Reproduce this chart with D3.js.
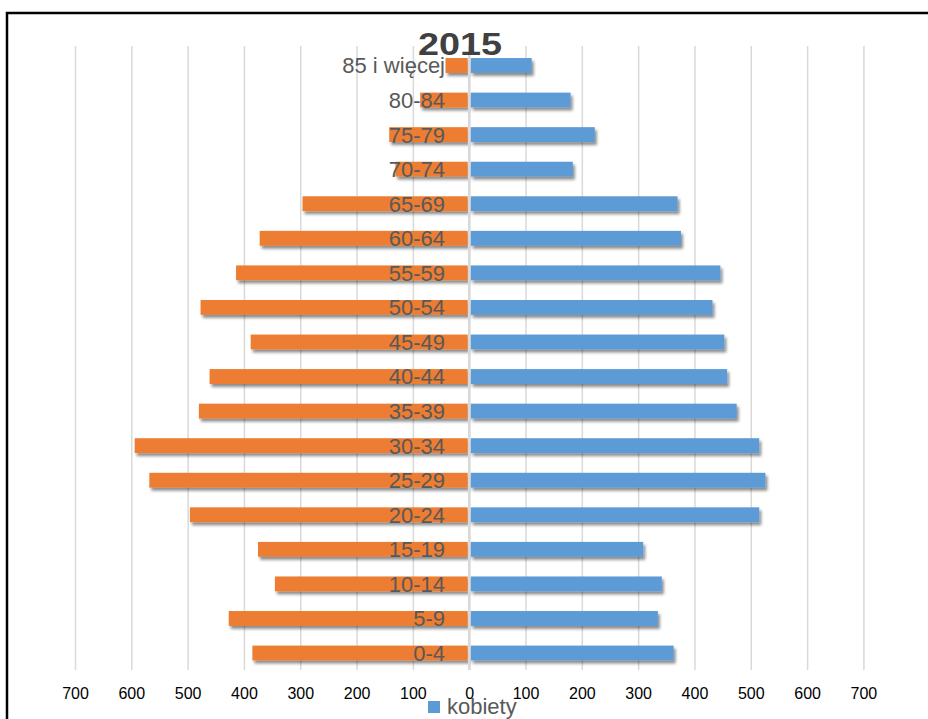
<!DOCTYPE html>
<html>
<head>
<meta charset="utf-8">
<script src="https://cdn.jsdelivr.net/npm/d3@7"></script>
<style>
  html, body { margin: 0; padding: 0; background: #fff; }
  svg { display: block; }
</style>
</head>
<body>
<svg id="chart" width="928" height="719"></svg>
<script>
// ---- data ----
const title = "2015";
const categories = ["0-4","5-9","10-14","15-19","20-24","25-29","30-34","35-39","40-44","45-49","50-54","55-59","60-64","65-69","70-74","75-79","80-84","85 i więcej"];
const men   = [385, 427, 345, 375, 496, 568, 594, 480, 461, 388, 477, 414, 372, 296, 131, 142, 87, 42];
const women = [363, 335, 342, 309, 515, 526, 515, 475, 458, 453, 432, 446, 376, 370, 184, 223, 180, 111];
const tickValues = [-700,-600,-500,-400,-300,-200,-100,0,100,200,300,400,500,600,700];
const legendLabel = "kobiety";

const svg = d3.select("#chart");
const W = 928, H = 719;

// drop shadow filter
const defs = svg.append("defs");
const f = defs.append("filter").attr("id","shadow").attr("x","-5%").attr("y","-40%").attr("width","110%").attr("height","200%");
f.append("feDropShadow").attr("dx",2).attr("dy",3).attr("stdDeviation",1.6)
  .attr("flood-color","#000").attr("flood-opacity",0.45);

// frame
svg.append("rect").attr("x",7).attr("y",13).attr("width",W+20).attr("height",H+20)
  .attr("fill","#fff").attr("stroke","#000").attr("stroke-width",2.5);

const x = d3.scaleLinear().domain([-700,700]).range([75,863.4]);
const y = d3.scaleBand().domain(categories.slice().reverse()).range([48.2,670.3])
  .paddingInner(0.57).paddingOuter(0.285);

// gridlines
const grid = svg.append("g").attr("transform",`translate(0,${670})`)
  .call(d3.axisBottom(x).tickValues(tickValues).tickSize(-(670-46)).tickFormat(""));
grid.select(".domain").remove();
grid.selectAll(".tick line").attr("stroke","#d9d9d9").attr("stroke-width",1.5);

const rows = categories.map((c,i)=>({c, m: men[i], w: women[i]}));
const x0 = x(0);

// bars
const bars = svg.append("g").attr("filter","url(#shadow)");
bars.selectAll("rect.m").data(rows).join("rect").attr("class","m")
  .attr("x", d => x(-d.m)).attr("width", d => x0 - 1.5 - x(-d.m))
  .attr("y", d => y(d.c)).attr("height", y.bandwidth())
  .attr("fill","#ED7D31");
bars.selectAll("rect.w").data(rows).join("rect").attr("class","w")
  .attr("x", x0 + 1.5).attr("width", d => x(d.w) - x0 - 1.5)
  .attr("y", d => y(d.c)).attr("height", y.bandwidth())
  .attr("fill","#5B9BD5");

// zero line
svg.append("line").attr("x1",x0).attr("x2",x0).attr("y1",46).attr("y2",670)
  .attr("stroke","#d9d9d9").attr("stroke-width",2.5);

// category labels
svg.append("g").selectAll("text").data(rows).join("text")
  .attr("x", 445).attr("y", d => y(d.c) + y.bandwidth()/2)
  .attr("dy","0.36em").attr("text-anchor","end")
  .attr("font-family","'Liberation Sans', Arial, sans-serif").attr("font-size",22)
  .attr("fill","#595959").text(d => d.c);

// tick labels
const ax = svg.append("g").attr("transform","translate(0,685)")
  .call(d3.axisBottom(x).tickValues(tickValues).tickSize(0).tickFormat(d => Math.abs(d)));
ax.select(".domain").remove();
ax.selectAll("text").attr("font-family","'Liberation Sans', Arial, sans-serif")
  .attr("font-size",16).attr("fill","#000").attr("dy","0.71em");

// title
svg.append("text").attr("x",460).attr("y",55).attr("text-anchor","middle")
  .attr("font-family","'Liberation Sans', Arial, sans-serif").attr("font-weight","bold")
  .attr("font-size",32).attr("fill","#404040")
  .attr("textLength",84).attr("lengthAdjust","spacingAndGlyphs").text(title);

// legend
svg.append("rect").attr("x",428).attr("y",701).attr("width",12).attr("height",12).attr("fill","#5B9BD5");
svg.append("text").attr("x",447).attr("y",714)
  .attr("font-family","'Liberation Sans', Arial, sans-serif").attr("font-size",22)
  .attr("fill","#595959").text(legendLabel);
</script>
</body>
</html>
